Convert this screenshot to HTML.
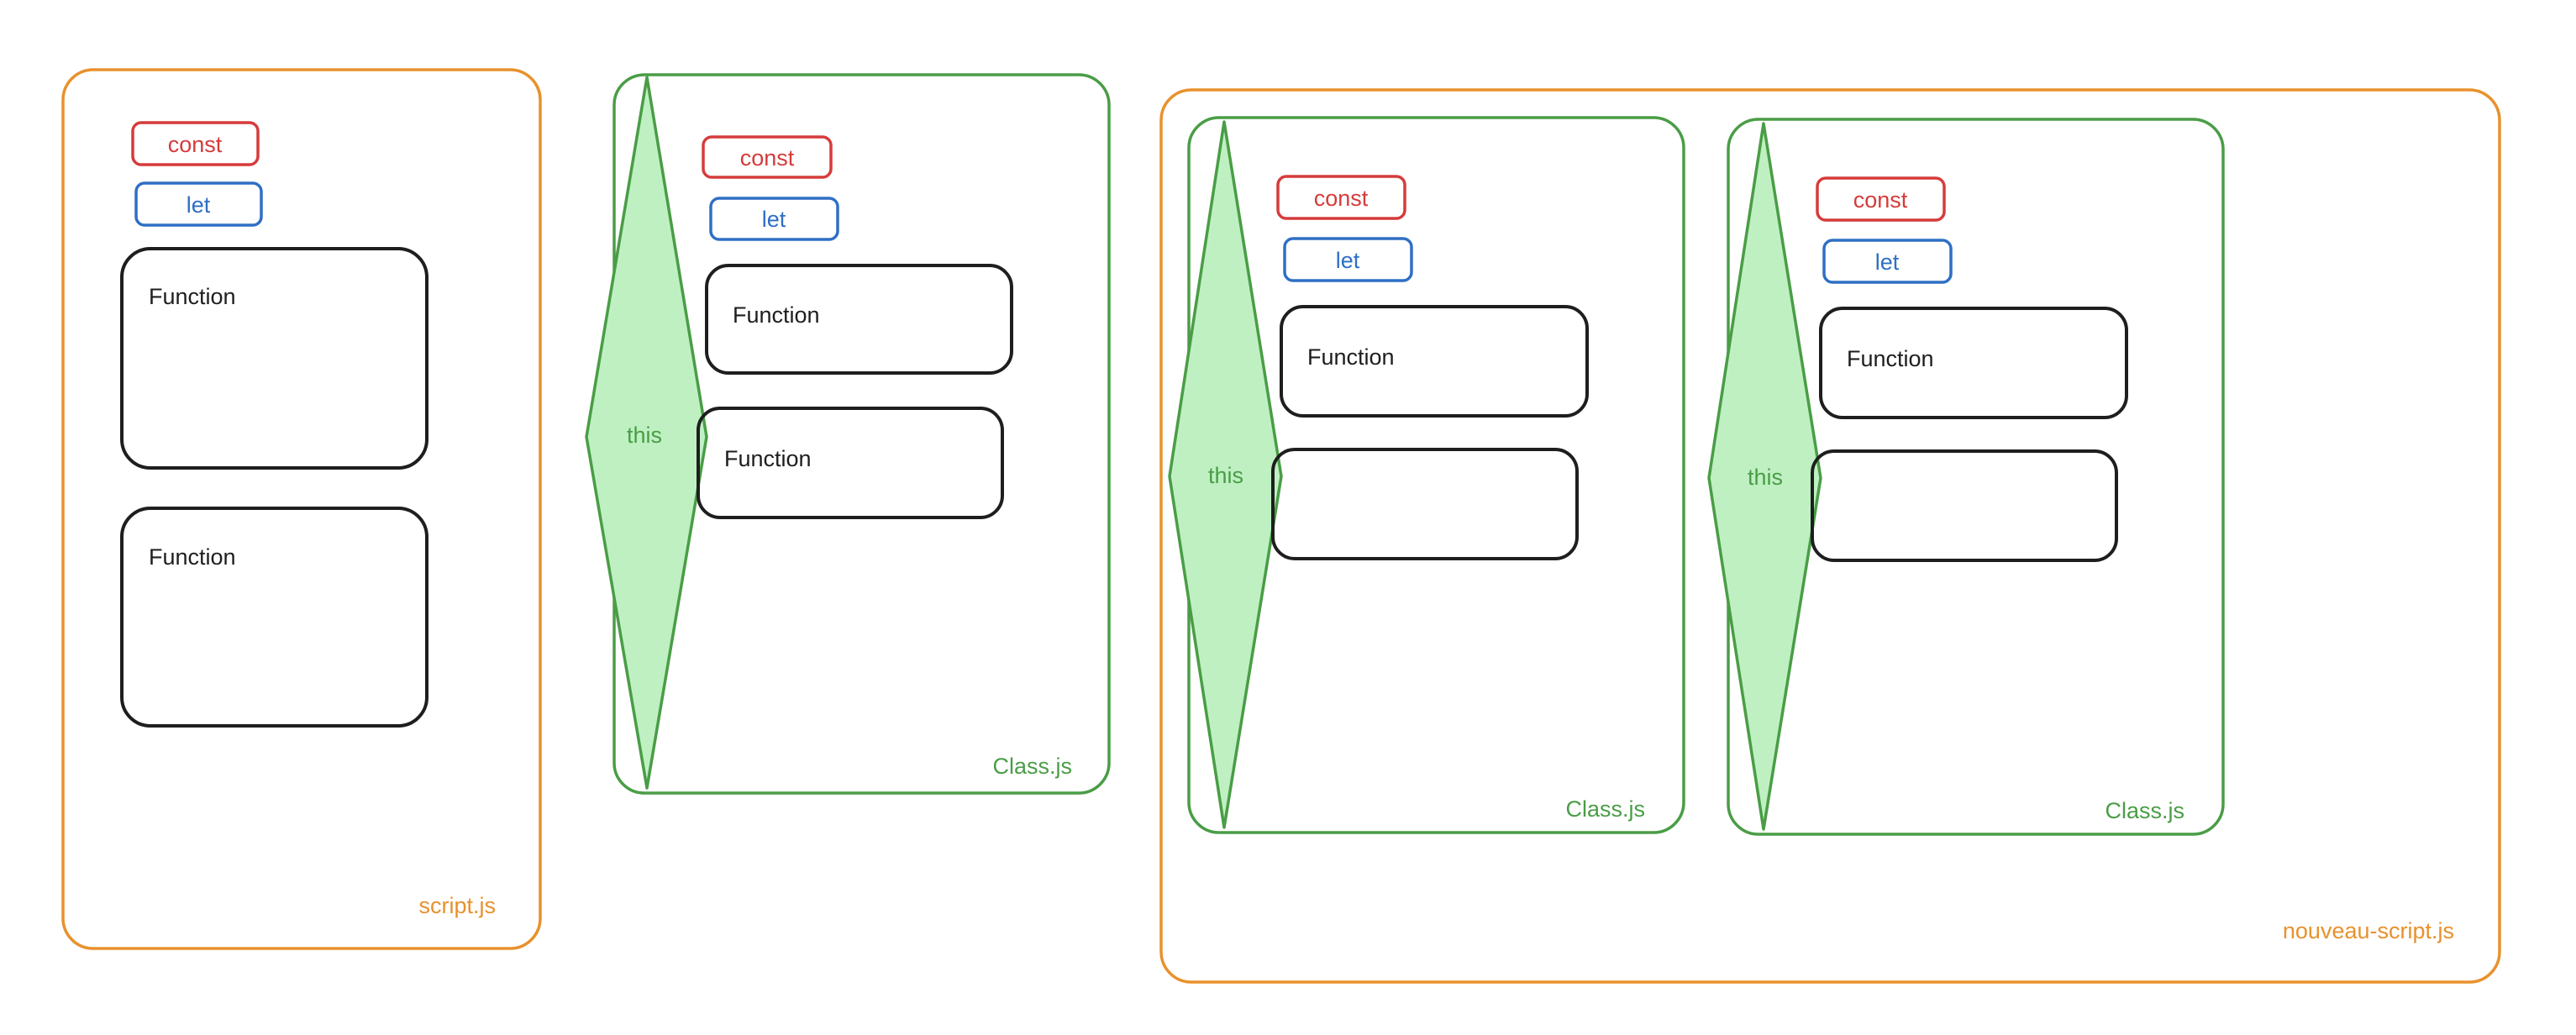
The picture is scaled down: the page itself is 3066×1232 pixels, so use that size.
<!DOCTYPE html>
<html><head><meta charset="utf-8"><style>
html,body{margin:0;padding:0;background:#fff;}
svg{display:block;}
text{font-family:"Liberation Sans",sans-serif;}
</style></head><body>
<svg width="3066" height="1232" viewBox="0 0 3066 1232" xmlns="http://www.w3.org/2000/svg">
<rect width="3066" height="1232" fill="#fff"/>
<!-- script.js -->
<rect x="75" y="83" width="568" height="1046" rx="36" fill="none" stroke="#e8912d" stroke-width="3.5"/>
<rect x="158" y="146" width="149" height="50" rx="10" fill="none" stroke="#d63b3b" stroke-width="3.5"/>
<text x="232" y="181" font-size="27" fill="#d63b3b" text-anchor="middle">const</text>
<rect x="162" y="218" width="149" height="50" rx="10" fill="none" stroke="#2f6fc4" stroke-width="3.5"/>
<text x="236" y="253" font-size="27" fill="#2f6fc4" text-anchor="middle">let</text>
<rect x="145" y="296" width="363" height="261" rx="34" fill="none" stroke="#1e1e1e" stroke-width="4"/>
<text x="177" y="362" font-size="27" fill="#1e1e1e">Function</text>
<rect x="145" y="605" width="363" height="259" rx="34" fill="none" stroke="#1e1e1e" stroke-width="4"/>
<text x="177" y="672" font-size="27" fill="#1e1e1e">Function</text>
<text x="590" y="1087" font-size="27" fill="#e8912d" text-anchor="end">script.js</text>

<!-- Class 1 -->
<rect x="731" y="89" width="589" height="855" rx="36" fill="none" stroke="#4a9d46" stroke-width="3.5"/>
<polygon points="770,92 841,520 770,938 698,520" fill="#bff0c2" stroke="#4a9d46" stroke-width="3.5" stroke-linejoin="round"/>
<text x="767" y="527" font-size="27" fill="#4a9d46" text-anchor="middle">this</text>
<rect x="837" y="163" width="152" height="48" rx="10" fill="none" stroke="#d63b3b" stroke-width="3.5"/>
<text x="913" y="197" font-size="27" fill="#d63b3b" text-anchor="middle">const</text>
<rect x="846" y="236" width="151" height="49" rx="10" fill="none" stroke="#2f6fc4" stroke-width="3.5"/>
<text x="921" y="270" font-size="27" fill="#2f6fc4" text-anchor="middle">let</text>
<rect x="841" y="316" width="363" height="128" rx="26" fill="none" stroke="#1e1e1e" stroke-width="4"/>
<text x="872" y="384" font-size="27" fill="#1e1e1e">Function</text>
<rect x="831" y="486" width="362" height="130" rx="26" fill="none" stroke="#1e1e1e" stroke-width="4"/>
<text x="862" y="555" font-size="27" fill="#1e1e1e">Function</text>
<text x="1276" y="921" font-size="27" fill="#4a9d46" text-anchor="end">Class.js</text>

<!-- nouveau-script.js -->
<rect x="1382" y="107" width="1593" height="1062" rx="36" fill="none" stroke="#e8912d" stroke-width="3.5"/>
<text x="2921" y="1117" font-size="27" fill="#e8912d" text-anchor="end">nouveau-script.js</text>

<g id="cA">
<rect x="1415" y="140" width="589" height="851" rx="36" fill="none" stroke="#4a9d46" stroke-width="3.5"/>
<polygon points="1457,145 1525,567 1457,985 1392,567" fill="#bff0c2" stroke="#4a9d46" stroke-width="3.5" stroke-linejoin="round"/>
<text x="1459" y="575" font-size="27" fill="#4a9d46" text-anchor="middle">this</text>
<rect x="1521" y="210" width="151" height="50" rx="10" fill="none" stroke="#d63b3b" stroke-width="3.5"/>
<text x="1596" y="245" font-size="27" fill="#d63b3b" text-anchor="middle">const</text>
<rect x="1529" y="284" width="151" height="50" rx="10" fill="none" stroke="#2f6fc4" stroke-width="3.5"/>
<text x="1604" y="319" font-size="27" fill="#2f6fc4" text-anchor="middle">let</text>
<rect x="1525" y="365" width="364" height="130" rx="26" fill="none" stroke="#1e1e1e" stroke-width="4"/>
<text x="1556" y="434" font-size="27" fill="#1e1e1e">Function</text>
<rect x="1515" y="535" width="362" height="130" rx="26" fill="none" stroke="#1e1e1e" stroke-width="4"/>
<text x="1958" y="972" font-size="27" fill="#4a9d46" text-anchor="end">Class.js</text>
</g>
<g transform="translate(642,2)">
<rect x="1415" y="140" width="589" height="851" rx="36" fill="none" stroke="#4a9d46" stroke-width="3.5"/>
<polygon points="1457,145 1525,567 1457,985 1392,567" fill="#bff0c2" stroke="#4a9d46" stroke-width="3.5" stroke-linejoin="round"/>
<text x="1459" y="575" font-size="27" fill="#4a9d46" text-anchor="middle">this</text>
<rect x="1521" y="210" width="151" height="50" rx="10" fill="none" stroke="#d63b3b" stroke-width="3.5"/>
<text x="1596" y="245" font-size="27" fill="#d63b3b" text-anchor="middle">const</text>
<rect x="1529" y="284" width="151" height="50" rx="10" fill="none" stroke="#2f6fc4" stroke-width="3.5"/>
<text x="1604" y="319" font-size="27" fill="#2f6fc4" text-anchor="middle">let</text>
<rect x="1525" y="365" width="364" height="130" rx="26" fill="none" stroke="#1e1e1e" stroke-width="4"/>
<text x="1556" y="434" font-size="27" fill="#1e1e1e">Function</text>
<rect x="1515" y="535" width="362" height="130" rx="26" fill="none" stroke="#1e1e1e" stroke-width="4"/>
<text x="1958" y="972" font-size="27" fill="#4a9d46" text-anchor="end">Class.js</text>
</g>
</svg>
</body></html>
